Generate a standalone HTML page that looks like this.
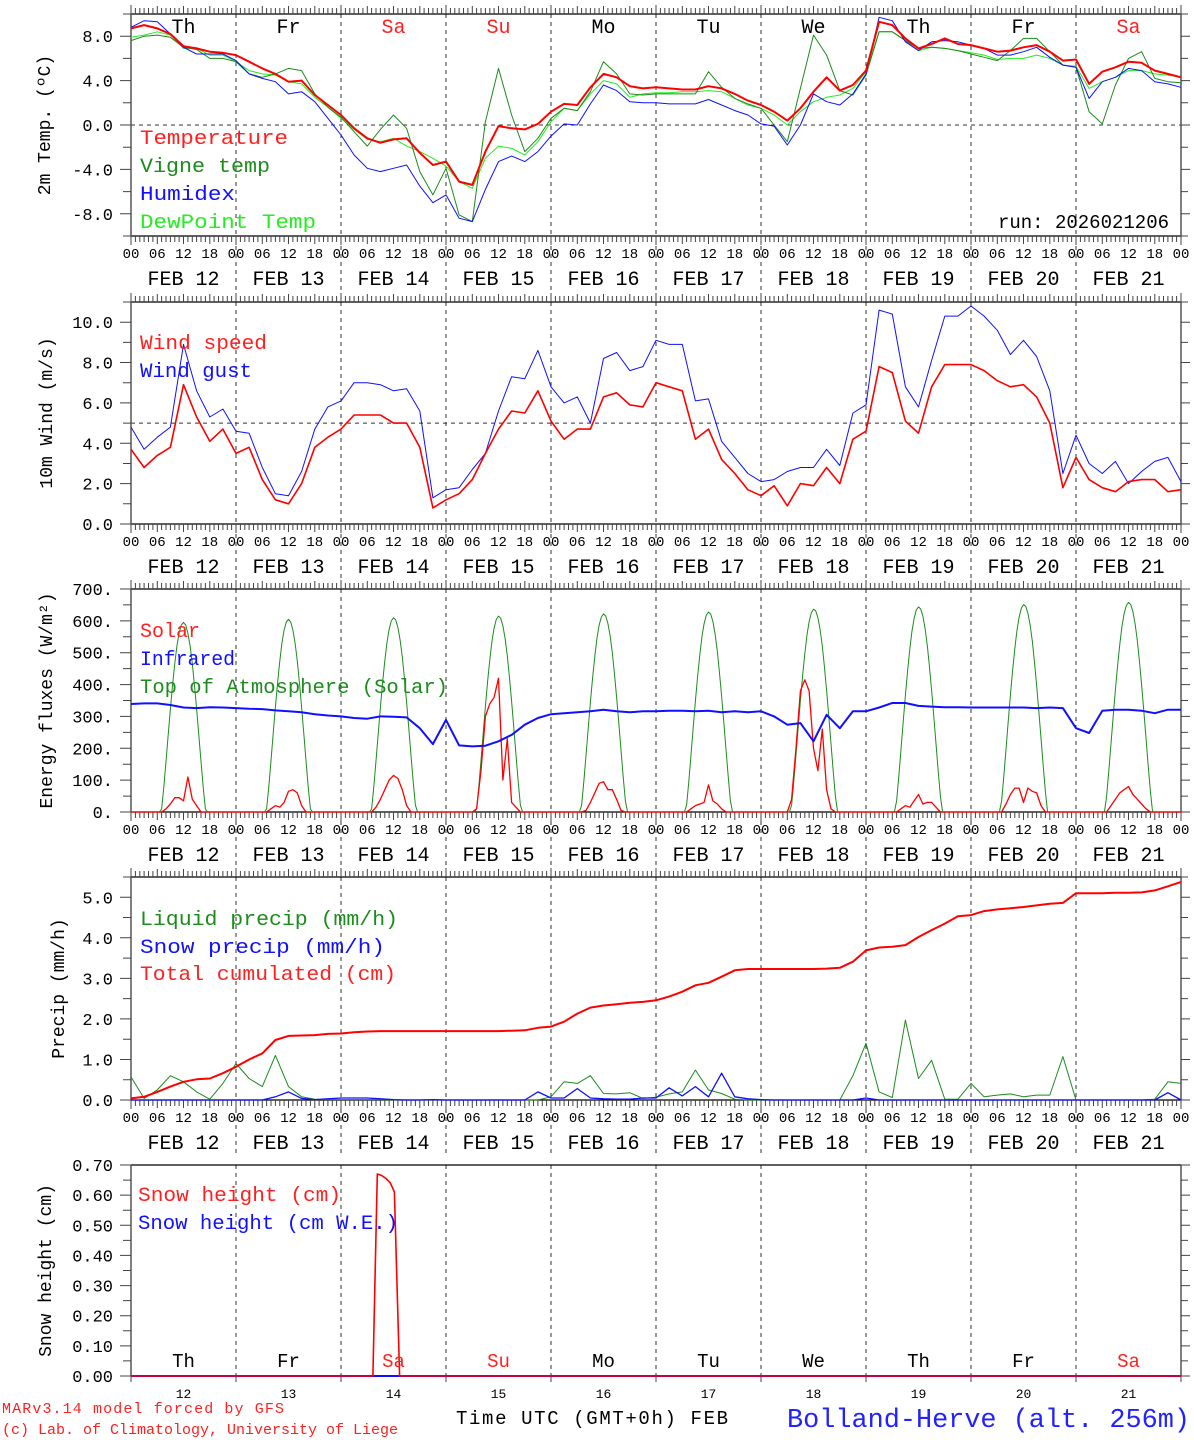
<!DOCTYPE html>
<html><head><meta charset="utf-8"><title>MAR forecast Bolland-Herve</title>
<style>
html,body{margin:0;padding:0;background:#fff;}
svg{display:block;font-family:"Liberation Mono","DejaVu Sans Mono",monospace;}
</style></head>
<body>
<svg id="chart" xmlns="http://www.w3.org/2000/svg" width="1194" height="1440" viewBox="0 0 1194 1440"></svg>
<script>
// ---------- DATA (3-hourly, t = 0..240 h from FEB 12 00 UTC) ----------
const dayNames = ["Th","Fr","Sa","Su","Mo","Tu","We","Th","Fr","Sa"];
const dayNums = ["12","13","14","15","16","17","18","19","20","21"];
const febLabels = ["FEB 12","FEB 13","FEB 14","FEB 15","FEB 16","FEB 17","FEB 18","FEB 19","FEB 20","FEB 21"];
const hourLabels = ["00","06","12","18"];

const temperature = [8.7,9.0,8.7,8.2,7.1,6.9,6.6,6.5, 6.3,5.7,5.1,4.6,3.9,4.0,2.7,1.8, 0.9,-0.3,-1.2,-1.6,-1.3,-1.2,-2.5,-3.6, -3.3,-5.1,-5.4,-2.4,-0.1,-0.3,-0.4,0.1, 1.2,1.9,1.8,3.4,4.6,4.3,3.5,3.3, 3.4,3.3,3.2,3.2,3.5,3.3,2.8,2.2, 1.8,1.2,0.4,1.5,3.0,4.3,3.1,3.6, 4.9,9.3,9.0,7.8,6.9,7.3,7.8,7.3, 7.2,6.9,6.6,6.7,7.0,7.2,6.6,5.8, 5.9,3.7,4.8,5.2,5.7,5.6,4.9,4.6,4.3];
const vigneTemp = [7.6,8.0,8.1,7.9,7.0,6.8,6.0,6.0, 5.7,4.6,4.3,4.6,5.1,4.9,2.8,1.6, 0.7,-0.6,-1.9,-0.4,0.9,-0.3,-4.2,-6.3, -3.9,-8.1,-8.7,0.3,5.1,0.9,-2.4,-1.2, 0.6,1.5,1.3,3.0,5.7,4.6,2.8,2.7, 2.8,2.8,2.8,2.8,4.8,3.4,2.4,1.9, 1.5,0.0,-1.5,3.3,8.1,6.3,3.1,2.7, 4.5,8.4,8.4,7.6,6.9,7.0,6.9,6.7, 6.4,6.1,5.8,6.7,7.8,7.8,6.6,5.4, 5.2,1.2,0.1,3.6,6.0,6.6,4.2,3.9,3.8];
const humidex = [8.8,9.4,9.3,8.2,7.0,6.4,6.4,6.4, 5.8,4.6,4.2,3.9,2.8,3.0,2.1,0.6, -0.9,-2.7,-3.9,-4.2,-3.9,-3.6,-5.5,-7.0, -6.3,-8.4,-8.7,-5.8,-3.3,-2.8,-3.3,-2.4, -1.0,0.1,0.0,1.9,3.6,3.1,2.1,2.0, 2.0,1.9,1.9,1.9,2.3,1.8,1.3,0.9, 0.1,-0.1,-1.8,0.0,2.8,2.1,1.8,2.8, 4.6,9.7,9.4,7.5,6.7,7.5,7.6,7.5, 7.2,6.9,6.3,6.3,6.6,7.0,6.1,5.4, 5.2,2.4,3.9,4.3,5.1,4.9,3.9,3.7,3.4];
const dewPoint = [7.9,8.1,8.4,8.1,6.9,6.9,6.3,6.3, 5.7,4.9,4.6,4.5,3.9,3.7,2.5,1.6, 0.6,-0.4,-1.3,-1.5,-1.2,-1.9,-2.4,-3.0, -3.7,-5.1,-5.7,-3.0,-1.9,-2.1,-2.7,-1.5, 0.3,1.5,1.3,2.8,4.0,3.7,2.5,2.8, 2.9,2.9,3.0,3.0,3.1,3.0,2.4,1.8, 1.5,0.9,0.0,1.2,2.1,2.5,2.7,3.3, 4.8,8.4,8.4,7.6,6.7,7.0,6.9,6.7, 6.5,6.3,5.9,6.0,6.0,6.3,6.0,5.4, 5.3,3.3,3.9,4.3,4.9,4.9,4.6,4.5,4.3];

const windSpeed = [3.7,2.8,3.4,3.8,6.9,5.3,4.1,4.7, 3.5,3.8,2.2,1.2,1.0,2.0,3.8,4.3, 4.7,5.4,5.4,5.4,5.0,5.0,3.8,0.8, 1.2,1.5,2.2,3.5,4.7,5.6,5.5,6.6, 5.1,4.2,4.7,4.7,6.3,6.5,5.9,5.8, 7.0,6.8,6.6,4.2,4.7,3.2,2.5,1.7, 1.4,1.9,0.9,2.0,1.9,2.8,2.0,4.2, 4.6,7.8,7.5,5.1,4.5,6.8,7.9,7.9, 7.9,7.6,7.1,6.8,6.9,6.3,5.0,1.8, 3.3,2.2,1.8,1.6,2.1,2.2,2.2,1.6,1.7];
const windGust = [4.8,3.7,4.3,4.8,8.9,6.6,5.3,5.7, 4.6,4.5,2.8,1.5,1.4,2.6,4.7,5.8, 6.1,7.0,7.0,6.9,6.6,6.7,5.6,1.3, 1.7,1.8,2.7,3.5,5.6,7.3,7.2,8.6, 6.8,6.0,6.3,5.0,8.2,8.5,7.6,7.8, 9.1,8.9,8.9,6.1,6.2,4.1,3.3,2.5, 2.1,2.2,2.6,2.8,2.8,3.7,2.9,5.5, 5.9,10.6,10.4,6.8,5.8,8.1,10.3,10.3, 10.8,10.3,9.6,8.4,9.1,8.3,6.6,2.5, 4.4,3.0,2.5,3.1,2.0,2.6,3.1,3.3,2.1];

const infrared = [339,341,341,336,328,326,329,328, 326,324,323,319,316,313,307,303, 300,295,293,300,299,297,263,213, 289,209,206,208,222,242,274,295, 307,310,313,316,321,316,313,316, 316,318,318,316,318,313,316,313, 316,300,274,279,222,305,263,316, 316,328,342,342,333,331,329,329, 328,328,328,328,328,326,328,326, 263,248,318,321,321,318,310,321,321];
// Top-of-atmosphere daily bells: peak value, sunrise hour, sunset hour
const toaPeak = [595,605,610,615,622,628,637,644,651,658];
const toaRise = [6.9,6.9,6.9,6.9,6.8,6.8,6.8,6.7,6.7,6.6];
const toaSet = [17.1,17.1,17.2,17.2,17.3,17.3,17.4,17.4,17.5,17.5];
// Surface solar: hourly values for local hours 6..18 of each day
const solarHours = [6,7,8,9,10,11,12,13,14,15,16,17,18];
const solarD0 = [0,0,10,25,45,45,35,110,40,20,0,0,0];
const solarD1 = [0,0,10,20,15,30,65,70,60,20,0,0,0];
const solarD2 = [0,0,15,40,70,100,115,105,70,20,0,0,0];
const solarD3 = [0,10,130,300,340,360,420,100,230,30,15,0,0];
const solarD4 = [0,0,5,30,60,90,95,70,70,40,5,0,0];
const solarD5 = [0,0,10,20,25,30,85,35,25,10,0,0,0];
const solarD6 = [0,40,200,380,415,380,200,130,260,70,10,0,0];
const solarD7 = [0,0,10,20,15,35,55,25,30,30,15,0,0];
const solarD8 = [0,0,25,55,75,75,30,75,65,60,20,0,0];
const solarD9 = [0,0,20,40,60,70,80,55,40,25,10,0,0];
const solarDays = [solarD0,solarD1,solarD2,solarD3,solarD4,solarD5,solarD6,solarD7,solarD8,solarD9];

const liquidPrecip = [0.57,0.04,0.25,0.6,0.45,0.2,0.02,0.41, 0.9,0.53,0.33,1.1,0.33,0.08,0.02,0.01, 0.01,0.01,0.01,0.01,0,0,0,0, 0,0,0,0,0,0,0,0, 0.08,0.45,0.41,0.6,0.16,0.15,0.18,0.04, 0.07,0.15,0.2,0.74,0.25,0.16,0.02,0, 0,0,0,0,0,0,0,0.6, 1.4,0.2,0.06,1.97,0.53,0.98,0.02,0.02, 0.41,0.08,0.12,0.15,0.08,0.12,0.12,1.07, 0,0,0,0,0,0,0.02,0.45,0.41];
const snowPrecip = [0,0,0,0,0,0,0,0, 0,0,0,0.08,0.2,0.04,0.01,0.03, 0.05,0.05,0.05,0.03,0.01,0,0,0.01, 0,0,0,0,0,0,0,0.2, 0.05,0.05,0.28,0.05,0.03,0.02,0.02,0.05, 0.05,0.3,0.1,0.33,0.08,0.66,0.08,0.03, 0.01,0,0,0,0,0,0,0, 0.05,0,0,0,0,0,0,0, 0,0,0,0,0,0,0,0, 0,0,0,0,0,0,0,0.18,0];
const totalCum = [0.04,0.08,0.2,0.33,0.45,0.51,0.53,0.66, 0.82,1.0,1.15,1.48,1.58,1.59,1.6,1.63, 1.64,1.67,1.69,1.7,1.7,1.7,1.7,1.7, 1.7,1.7,1.7,1.7,1.7,1.71,1.72,1.78, 1.81,1.93,2.13,2.28,2.33,2.36,2.4,2.42, 2.46,2.55,2.67,2.83,2.89,3.04,3.2,3.23, 3.23,3.23,3.23,3.23,3.23,3.24,3.26,3.41, 3.69,3.76,3.78,3.82,4.02,4.19,4.35,4.53, 4.56,4.66,4.7,4.73,4.76,4.8,4.84,4.86, 5.1,5.1,5.1,5.11,5.11,5.12,5.17,5.27,5.38];

const snowHours = [0,55.3,56.3,57.3,58.3,59.3,60.2,61.4,240];
const snowHeight = [0,0,0.67,0.665,0.655,0.64,0.61,0,0];
const snowWEHours = [0,240];
const snowWE = [0,0];

// ---------- DRAWING ----------
const NS = "http://www.w3.org/2000/svg";
const svg = document.getElementById("chart");
const X0 = 131, X1 = 1181;
function xs(h){ return X0 + h*(X1-X0)/240; }
function mk(tag, attrs, parent){
  const el = document.createElementNS(NS, tag);
  for (const k in attrs) el.setAttribute(k, attrs[k]);
  (parent||svg).appendChild(el);
  return el;
}
function txt(s, x, y, size, color, anchor, parent){
  const t = mk("text", {x:x, y:y, "font-size":size, fill:color||"#000", "text-anchor":anchor||"start"}, parent);
  t.textContent = s;
  return t;
}
function hours3(n){ const a=[]; for(let i=0;i<n;i++) a.push(i*3); return a; }

const panels = [
  {name:"temperature-panel", top:14, bot:236, min:-10, max:10, minor:2, major:4, fmt:v=>v.toFixed(1), zero:0, title:"2m Temp. (ºC)", titleX:50},
  {name:"wind-panel", top:302, bot:524, min:0, max:11, minor:1, major:2, fmt:v=>v.toFixed(1), zero:5, title:"10m Wind (m/s)", titleX:52},
  {name:"energy-panel", top:589, bot:812, min:0, max:700, minor:50, major:100, fmt:v=>v.toFixed(0)+".", zero:null, title:"Energy fluxes (W/m²)", titleX:52},
  {name:"precip-panel", top:877, bot:1100, min:0, max:5.5, minor:0.5, major:1, fmt:v=>v.toFixed(1), zero:null, title:"Precip (mm/h)", titleX:64},
  {name:"snow-panel", top:1165, bot:1376, min:0, max:0.70, minor:0.05, major:0.1, fmt:v=>v.toFixed(2), zero:null, title:"Snow height (cm)", titleX:51}
];
panels.forEach(p=>{ p.ys = v => p.bot - (v-p.min)*(p.bot-p.top)/(p.max-p.min); });

panels.forEach((p, pi)=>{
  const g = mk("g", {});
  
  
  const last = pi===4;
  for(let d=1; d<10; d++){
    const x = xs(d*24);
    const y2 = last ? p.bot+6 : p.bot+55;
    const l = mk("line", {x1:x, y1:p.top, x2:x, y2:y2, stroke:"#333", "stroke-width":1, "stroke-dasharray":"4,4"}, g);
    
    
  }
  if(p.zero!==null){
    const l = mk("line", {x1:X0, y1:p.ys(p.zero), x2:X1, y2:p.ys(p.zero), stroke:"#333", "stroke-width":1, "stroke-dasharray":"4,4"}, g);
    
    
  }
  mk("line", {x1:X0, y1:p.top, x2:X1, y2:p.top, stroke:"#000", "stroke-width":1.2}, g);
  mk("line", {x1:X0, y1:p.bot, x2:X1, y2:p.bot, stroke:"#000", "stroke-width":1.2}, g);
  mk("line", {x1:X0, y1:p.top, x2:X0, y2:p.bot, stroke:"#555", "stroke-width":1.5}, g);
  mk("line", {x1:X1, y1:p.top, x2:X1, y2:p.bot, stroke:"#555", "stroke-width":1.5}, g);
  let dTop="", dBot="";
  for(let h=0; h<=240; h++){
    const x = xs(h).toFixed(1);
    const len = (h%24===0)?9:(h%6===0?8:6);
    if(!last) dTop += `M${x} ${p.top}V${p.top-len}`;
    if(!last) dBot += `M${x} ${p.bot}V${p.bot+len}`;
    else if(h%24===0) dBot += `M${x} ${p.bot}V${p.bot+6}`;
  }
  mk("path", {d:dTop+dBot, stroke:"#444", "stroke-width":1, fill:"none"}, g);
  const nMin = Math.round((p.max-p.min)/p.minor);
  let dy="";
  for(let i=0;i<=nMin;i++){
    const v = p.min + i*p.minor;
    const y = p.ys(v).toFixed(1);
    const isMaj = Math.abs(Math.round(v/p.major)*p.major - v) < 1e-6;
    dy += `M${X0} ${y}H${X0-(isMaj?11:8)}M${X1} ${y}H${X1+(isMaj?9:7)}`;
    if(isMaj){
      const t = txt(p.fmt(v), 113, +y+6, 17, "#000", "end", g);
      
      
    }
  }
  mk("path", {d:dy, stroke:"#444", "stroke-width":1, fill:"none"}, g);
  const cy = (p.top+p.bot)/2;
  const yt = txt(p.title, p.titleX, cy, 18, "#000", "middle", g);
  yt.setAttribute("transform", `rotate(-90 ${p.titleX} ${cy})`);
  
  
  if(!last){
    for(let h=0; h<=240; h+=6){
      const t = txt(hourLabels[(h/6)%4], xs(h), p.bot+22, 14, "#000", "middle", g);
      
      
    }
    for(let d=0; d<10; d++){
      const t = txt(febLabels[d], xs(d*24+12), p.bot+49, 20, "#000", "middle", g);
      
      
    }
  }
});

function series(xArr, yArr, p, color, width, name){
  let d = "";
  for(let i=0;i<yArr.length;i++){
    d += (i?"L":"M") + xs(xArr[i]).toFixed(1) + " " + p.ys(yArr[i]).toFixed(1);
  }
  const el = mk("path", {d:d, stroke:color, "stroke-width":width, fill:"none", "stroke-linejoin":"round"});
  
  
  return el;
}
function legend(s, x, y, color, len){
  const t = txt(s, x, y, 20, color, "start");
  t.setAttribute("textLength", len);
  t.setAttribute("lengthAdjust", "spacingAndGlyphs");
  
  
}

const H3 = hours3(81);
const P = panels;
series(H3, dewPoint, P[0], "#22ee22", 1, "dewpoint-line");
series(H3, vigneTemp, P[0], "#1c8c1c", 1, "vigne-temp-line");
series(H3, humidex, P[0], "#1010ff", 1, "humidex-line");
series(H3, temperature, P[0], "#ff0000", 2, "temperature-line");
legend("Temperature", 140, 144, "#ff2020", 148);
legend("Vigne temp", 140, 172, "#1c8c1c", 130);
legend("Humidex", 140, 200, "#1010ff", 95);
legend("DewPoint Temp", 140, 228, "#22ee22", 176);
for(let d=0; d<10; d++){
  const red = dayNames[d]==="Sa"||dayNames[d]==="Su";
  const t = txt(dayNames[d], xs(d*24+12), 33, 20, red?"#ff2020":"#000", "middle");
  
  
}
const run = txt("run: 2026021206", 1169, 228, 19, "#000", "end");



series(H3, windGust, P[1], "#1010ff", 1, "wind-gust-line");
series(H3, windSpeed, P[1], "#ff0000", 1.6, "wind-speed-line");
legend("Wind speed", 140, 349, "#ff2020", 127);
legend("Wind gust", 140, 377, "#1010ff", 112);

(function(){
  for(let d=0; d<10; d++){
    const xa=[], ya=[];
    for(let h=0; h<=24; h+=0.5){
      let v = 0;
      if(h>toaRise[d] && h<toaSet[d]) v = toaPeak[d]*Math.pow(Math.sin(Math.PI*(h-toaRise[d])/(toaSet[d]-toaRise[d])),1.2);
      xa.push(d*24+h); ya.push(v);
    }
    series(xa, ya, P[2], "#1c8c1c", 1, "toa-solar-day-"+d);
  }
  const sx=[0], sy=[0];
  for(let d=0; d<10; d++){
    for(let i=0;i<solarHours.length;i++){ sx.push(d*24+solarHours[i]); sy.push(solarDays[d][i]); }
  }
  sx.push(240); sy.push(0);
  series(sx, sy, P[2], "#ff0000", 1.3, "solar-line");
})();
series(H3, infrared, P[2], "#1010ff", 2, "infrared-line");
legend("Solar", 140, 637, "#ff2020", 60);
legend("Infrared", 140, 665, "#1010ff", 95);
legend("Top of Atmosphere (Solar)", 140, 693, "#1c8c1c", 308);

series(H3, liquidPrecip, P[3], "#1c8c1c", 1, "liquid-precip-line");
series(H3, snowPrecip, P[3], "#1010ff", 1.3, "snow-precip-line");
series(H3, totalCum, P[3], "#ff0000", 2, "total-cumulated-line");
legend("Liquid precip (mm/h)", 140, 925, "#1c8c1c", 258);
legend("Snow precip (mm/h)", 140, 953, "#1010ff", 245);
legend("Total cumulated (cm)", 140, 980, "#ff2020", 256);

series(snowWEHours, snowWE, P[4], "#1010ff", 2, "snow-we-line");
series(snowHours, snowHeight, P[4], "#ff0000", 1.6, "snow-height-line");
legend("Snow height (cm)", 138, 1201, "#ff2020", 203);
legend("Snow height (cm W.E.)", 138, 1229, "#1010ff", 260);
for(let d=0; d<10; d++){
  const red = dayNames[d]==="Sa"||dayNames[d]==="Su";
  const t = txt(dayNames[d], xs(d*24+12), 1367, 19, red?"#ff2020":"#000", "middle");
  
  
  const n = txt(dayNums[d], xs(d*24+12), 1398, 13, "#000", "middle");
  
  
}
const xt = txt("Time UTC (GMT+0h) FEB", 456, 1424, 19, "#000", "start");
xt.setAttribute("textLength", 272);


const st = txt("Bolland-Herve (alt. 256m)", 787, 1427, 27, "#2222ff", "start");
st.setAttribute("textLength", 403);
st.setAttribute("lengthAdjust", "spacingAndGlyphs");


const c1 = txt("MARv3.14 model forced by GFS", 2, 1413, 15, "#ff2020", "start");
c1.setAttribute("textLength", 282);


const c2 = txt("(c) Lab. of Climatology, University of Liege", 2, 1434, 15, "#ff2020", "start");
c2.setAttribute("textLength", 396);


</script>
</body></html>
